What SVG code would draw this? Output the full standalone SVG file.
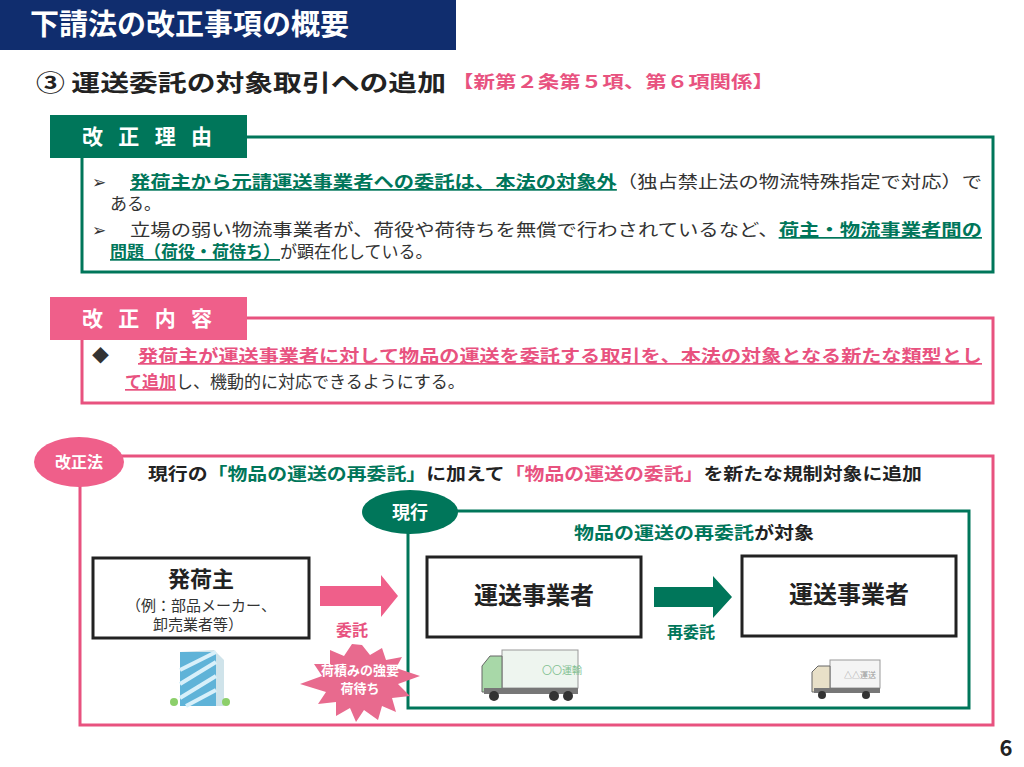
<svg xmlns="http://www.w3.org/2000/svg" width="1024" height="767" viewBox="0 0 1024 767">
<style>
text{font-family:"Noto Sans CJK JP","Noto Sans",sans-serif;}
.b{font-weight:bold}
.t{font-size:17px;fill:#333}
.g{fill:#00765a;font-weight:bold}
.p{fill:#e8527f;font-weight:bold}
.w{fill:#fff;font-weight:bold}
.box{fill:#fff;stroke:#222;stroke-width:3}
</style>
<rect width="1024" height="767" fill="#fff"/>
<g id="title">
<rect x="0" y="0" width="456" height="50" fill="#102d6e"/>
<text x="30" y="35" class="w" font-size="29">下請法の改正事項の概要</text>
<text x="36" y="91" class="b" font-size="23" fill="#222" textLength="410" lengthAdjust="spacingAndGlyphs">③ 運送委託の対象取引への追加</text>
<text x="452" y="88" class="p" font-size="17" textLength="322" lengthAdjust="spacingAndGlyphs">【新第２条第５項、第６項関係】</text>
</g>
<g id="reason">
<rect x="82" y="137" width="911" height="135" fill="#fff" stroke="#00765a" stroke-width="3"/>
<rect x="50" y="115" width="197" height="43" fill="#00765a"/>
<text x="82" y="144" class="w" font-size="21" textLength="130" lengthAdjust="spacing">改正理由</text>
<text x="92" y="188" class="t">➢</text>
<text x="130" y="188" class="t" textLength="852" lengthAdjust="spacingAndGlyphs"><tspan class="g" text-decoration="underline">発荷主から元請運送事業者への委託は、本法の対象外</tspan>（独占禁止法の物流特殊指定で対応）で</text>
<text x="110" y="210" class="t">ある。</text>
<text x="92" y="236" class="t">➢</text>
<text x="130" y="236" class="t" textLength="852" lengthAdjust="spacingAndGlyphs">立場の弱い物流事業者が、荷役や荷待ちを無償で行わされているなど、<tspan class="g" text-decoration="underline">荷主・物流事業者間の</tspan></text>
<text x="110" y="258" class="t"><tspan class="g" text-decoration="underline">問題（荷役・荷待ち）</tspan>が顕在化している。</text>
</g>
<g id="content">
<rect x="82" y="318" width="911" height="85" fill="#fff" stroke="#e8527f" stroke-width="3"/>
<rect x="50" y="297" width="197" height="43" fill="#ef5f8a"/>
<text x="82" y="326" class="w" font-size="21" textLength="130" lengthAdjust="spacing">改正内容</text>
<text x="92" y="362" class="t">◆</text>
<text x="138" y="362" class="t p" text-decoration="underline" textLength="844" lengthAdjust="spacingAndGlyphs">発荷主が運送事業者に対して物品の運送を委託する取引を、本法の対象となる新たな類型とし</text>
<text x="125" y="388" class="t"><tspan class="p" text-decoration="underline">て追加</tspan>し、機動的に対応できるようにする。</text>
</g>
<g id="law">
<rect x="80" y="456" width="913" height="269" fill="none" stroke="#e8527f" stroke-width="3"/>
<ellipse cx="79" cy="462" rx="45" ry="25" fill="#ef5f8a"/>
<text x="79" y="468" class="w" font-size="16" text-anchor="middle">改正法</text>
<text x="148" y="480" class="b" font-size="17" fill="#222" textLength="774" lengthAdjust="spacingAndGlyphs">現行の<tspan fill="#00765a">「物品の運送の再委託」</tspan>に加えて<tspan fill="#e8527f">「物品の運送の委託」</tspan>を新たな規制対象に追加</text>
</g>
<g id="current">
<rect x="408" y="511" width="561" height="197" fill="none" stroke="#00765a" stroke-width="3"/>
<ellipse cx="410" cy="512" rx="48" ry="22" fill="#00765a"/>
<text x="410" y="519" class="w" font-size="18" text-anchor="middle">現行</text>
<text x="574" y="539" class="b" font-size="17" fill="#222" textLength="240" lengthAdjust="spacingAndGlyphs"><tspan fill="#00765a">物品の運送の再委託</tspan>が対象</text>
</g>
<g id="shipper">
<rect x="93" y="558" width="216" height="80" class="box"/>
<text x="201" y="587" class="b" font-size="22" fill="#222" text-anchor="middle">発荷主</text>
<text x="201" y="611" font-size="15" fill="#333" text-anchor="middle">（例：部品メーカー、</text>
<text x="198" y="630" font-size="15" fill="#333" text-anchor="middle">卸売業者等）</text>
<g transform="translate(172,650)">
<polygon points="8,2 42,0 52,10 52,56 8,56" fill="#cfe3ea"/>
<rect x="8" y="2" width="36" height="54" fill="#5fb3d8"/>
<path d="M8,20 L44,2 M8,34 L44,12 M8,48 L44,26 M14,56 L44,40" stroke="#d8f0fa" stroke-width="4"/>
<circle cx="2" cy="52" r="4" fill="#8ccf6a"/><circle cx="54" cy="52" r="4" fill="#8ccf6a"/>
</g>
</g>
<g id="carrier1">
<rect x="427" y="557" width="214" height="80" class="box"/>
<text x="534" y="604" class="b" font-size="24" fill="#222" text-anchor="middle">運送事業者</text>
<g transform="translate(482,648)">
<rect x="20" y="2" width="76" height="38" fill="#eef5ef" stroke="#999"/>
<text x="60" y="26" font-size="10" fill="#7fbf8f">〇〇運輸</text>
<path d="M0,18 L8,8 L20,8 L20,44 L0,44 Z" fill="#a8d8a8" stroke="#666"/>
<rect x="2" y="40" width="94" height="6" fill="#777"/>
<circle cx="12" cy="48" r="5" fill="#333"/><circle cx="72" cy="48" r="5" fill="#333"/><circle cx="86" cy="48" r="5" fill="#333"/>
</g>
</g>
<g id="carrier2">
<rect x="742" y="556" width="214" height="80" class="box"/>
<text x="849" y="603" class="b" font-size="24" fill="#222" text-anchor="middle">運送事業者</text>
<g transform="translate(812,658)">
<rect x="18" y="2" width="50" height="28" fill="#f4f4f4" stroke="#999"/>
<text x="32" y="20" font-size="8" fill="#999">△△運送</text>
<path d="M0,14 L6,8 L18,8 L18,34 L0,34 Z" fill="#e8e0c8" stroke="#666"/>
<rect x="2" y="30" width="66" height="5" fill="#777"/>
<circle cx="10" cy="37" r="4" fill="#333"/><circle cx="54" cy="37" r="4" fill="#333"/>
</g>
</g>
<g id="connectors">
<polygon points="320,586 381,586 381,575 398,596 381,617 381,606 320,606" fill="#ef5f8a"/>
<text x="352" y="636" class="p" font-size="16" text-anchor="middle">委託</text>
<polygon points="654,587 713,587 713,576 732,597 713,618 713,607 654,607" fill="#00765a"/>
<text x="691" y="638" class="g" font-size="16" text-anchor="middle">再委託</text>
</g>
<g id="burst">
<polygon points="362,645 370,655 382,648 386,660 402,657 396,668 420,676 398,684 410,696 392,698 396,712 382,706 378,720 364,710 356,722 350,708 336,716 336,702 318,704 326,692 300,684 322,676 314,664 330,664 330,650 344,656 352,644" fill="#e86a8e"/>
<text x="360" y="675" class="w" font-size="13" text-anchor="middle">荷積みの強要</text>
<text x="360" y="693" class="w" font-size="13" text-anchor="middle">荷待ち</text>
</g>
<text x="1006" y="756" class="b" font-size="22" fill="#222" text-anchor="middle">6</text>
</svg>
